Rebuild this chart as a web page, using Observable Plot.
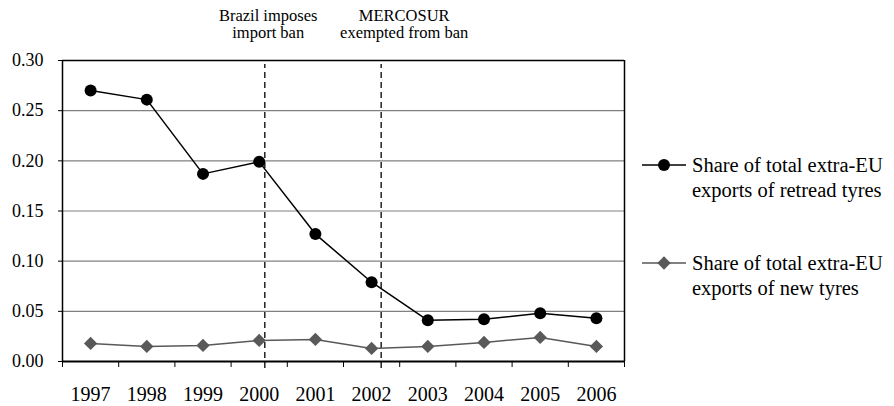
<!DOCTYPE html>
<html><head><meta charset="utf-8">
<script src="https://cdn.jsdelivr.net/npm/d3@7"></script>
<script src="https://cdn.jsdelivr.net/npm/@observablehq/plot@0.6"></script>
<style>
body{margin:0;background:#fff;font-family:"Liberation Serif","Times New Roman",serif;}
#wrap{position:relative;width:894px;height:406px;background:#fff;}
#wrap svg, #wrap svg text{font-family:"Liberation Serif","Times New Roman",serif !important;}
.leg{position:absolute;left:642px;display:flex;align-items:flex-start;font-size:20.5px;line-height:25px;color:#000;white-space:pre;}
.leg svg{margin-top:4px;margin-right:6px;flex:none;}
</style></head><body><div id="wrap"></div>
<script>
const years = [1997, 1998, 1999, 2000, 2001, 2002, 2003, 2004, 2005, 2006];
const retread = [0.270, 0.261, 0.187, 0.199, 0.127, 0.079, 0.041, 0.042, 0.048, 0.043];
const newTyres = [0.018, 0.015, 0.016, 0.021, 0.022, 0.013, 0.015, 0.019, 0.024, 0.015];
const yTicks = [0, 0.05, 0.10, 0.15, 0.20, 0.25, 0.30];
const events = [2000.1, 2002.17];
const eventLabelX = [2000.16, 2002.58];
const eventLabels = ["Brazil imposes\nimport ban", "MERCOSUR\nexempted from ban"];
const seriesNames = ["Share of total extra-EU\nexports of retread tyres", "Share of total extra-EU\nexports of new tyres"];
const seriesColors = ["#000000", "#595959"];
const seriesSymbols = ["circle", "diamond2"];

const serif = '"Liberation Serif", "Times New Roman", serif';
const retreadRows = years.map((y, i) => ({year: y, value: retread[i]}));
const newRows = years.map((y, i) => ({year: y, value: newTyres[i]}));
const boundaries = d3.range(years[0] - 0.5, years[years.length - 1] + 1, 1);
const xDomain = [boundaries[0], boundaries[boundaries.length - 1]];
const yMax = yTicks[yTicks.length - 1];
const eventRows = events.map((x, i) => ({x, labelX: eventLabelX[i], label: eventLabels[i]}));

const chart = Plot.plot({
  width: 894, height: 406,
  marginLeft: 62, marginRight: 270, marginTop: 60, marginBottom: 45,
  x: {domain: xDomain},
  y: {domain: [0, yMax]},
  style: {fontFamily: serif, background: "white", color: "black"},
  marks: [
    Plot.gridY(yTicks.slice(1, -1), {stroke: "#808080", strokeOpacity: 1, strokeWidth: 1.2}),
    Plot.ruleY([yMax], {stroke: "black", strokeWidth: 1.5}),
    Plot.ruleX([xDomain[1]], {stroke: "black", strokeWidth: 1.5}),
    Plot.ruleX([xDomain[0]], {stroke: "black", strokeWidth: 1.5}),
    Plot.ruleX(eventRows, {x: "x", y1: () => -0.007, y2: () => 0.296, stroke: "black", strokeWidth: 1.3, strokeDasharray: "6,4", clip: false}),
    Plot.axisY({ticks: yTicks, tickFormat: d3.format(".2f"), tickSize: 4, tickPadding: 15, fontSize: 18, fontFamily: serif, label: null}),
    Plot.axisX({ticks: boundaries, tickSize: 6, tickFormat: () => "", label: null}),
    Plot.axisX({ticks: years, tickSize: 0, tickPadding: 25, fontSize: 20, fontFamily: serif, tickFormat: d => String(d), label: null}),
    Plot.ruleY([0], {stroke: "black", strokeWidth: 2}),
    Plot.line(newRows, {x: "year", y: "value", stroke: seriesColors[1], strokeWidth: 1.5}),
    Plot.dot(newRows, {x: "year", y: "value", symbol: seriesSymbols[1], r: 6, fill: seriesColors[1], stroke: "none"}),
    Plot.line(retreadRows, {x: "year", y: "value", stroke: seriesColors[0], strokeWidth: 1.5}),
    Plot.dot(retreadRows, {x: "year", y: "value", symbol: seriesSymbols[0], r: 6, fill: seriesColors[0], stroke: "none"}),
    Plot.text(eventRows, {x: "labelX", text: "label", frameAnchor: "top", lineAnchor: "top", dy: -52, fontSize: 16.5, lineHeight: 1.05, fontFamily: serif, fill: "black"})
  ]
});
const wrap = document.getElementById("wrap");
wrap.appendChild(chart);

const legTops = [153, 251];
seriesNames.forEach((name, i) => {
  const div = document.createElement("div");
  div.className = "leg";
  div.style.top = legTops[i] + "px";
  const svg = d3.create("svg").attr("width", 44).attr("height", 16);
  svg.append("line").attr("x1", 0).attr("x2", 44).attr("y1", 8).attr("y2", 8)
    .attr("stroke", seriesColors[i]).attr("stroke-width", 1.5);
  const sym = i === 0 ? d3.symbolCircle : d3.symbolDiamond2;
  svg.append("path").attr("transform", "translate(22,8)")
    .attr("d", d3.symbol(sym, Math.PI * 36)()).attr("fill", seriesColors[i]);
  div.appendChild(svg.node());
  const span = document.createElement("span");
  span.textContent = name;
  div.appendChild(span);
  wrap.appendChild(div);
});
</script></body></html>
